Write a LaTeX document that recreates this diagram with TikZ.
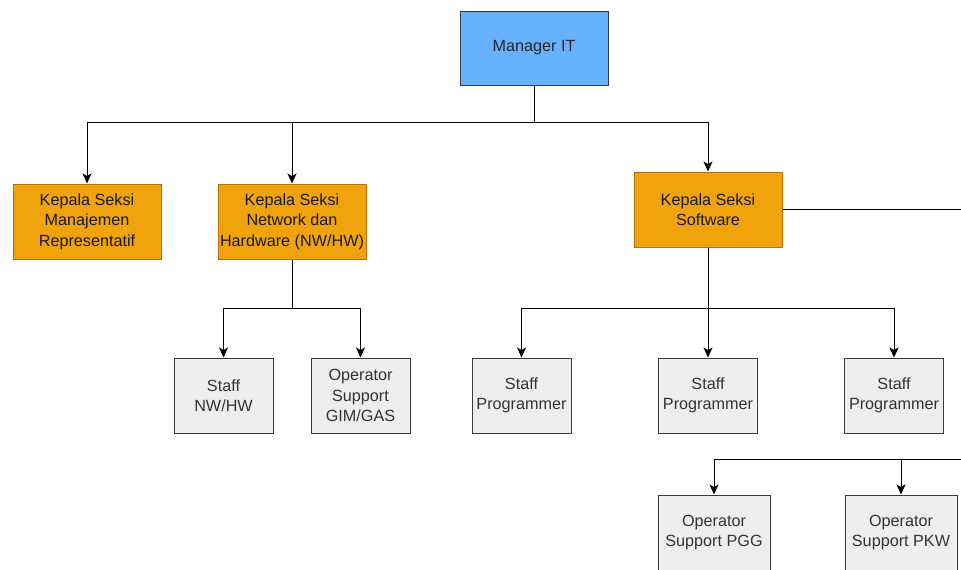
\documentclass[tikz,border=0pt]{standalone}
\usepackage{fontspec}
\setmainfont{Liberation Sans}
\usetikzlibrary{arrows.meta}
\definecolor{bluefill}{HTML}{66B2FF}
\definecolor{orangefill}{HTML}{F0A30A}
\definecolor{orangeline}{HTML}{BD7000}
\definecolor{grayfill}{HTML}{EEEEEE}
\definecolor{grayline}{HTML}{36393D}
\definecolor{graytext}{HTML}{333333}
\tikzset{
  box/.style={draw, line width=1pt, align=center, inner sep=0pt,
    font=\fontsize{16.2}{20.5}\selectfont},
  bluebox/.style={box, fill=bluefill, draw=grayline, text=black!85,
    minimum width=148pt, minimum height=74pt},
  orangebox/.style={box, fill=orangefill, draw=orangeline, text=black!90,
    minimum width=148pt, minimum height=75pt},
  graybox/.style={box, fill=grayfill, draw=grayline, text=graytext,
    minimum width=99pt, minimum height=75pt},
  widegraybox/.style={graybox, minimum width=112pt},
  conn/.style={line width=1pt, black},
  arr/.style={conn, -{Stealth[length=10pt,width=9pt,inset=2.5pt]}}
}
\begin{document}
\begin{tikzpicture}[x=1pt,y=-1pt]
\useasboundingbox (0,0) rectangle (961,570);
% nodes
\node[bluebox] (mgr) at (534,48) {Manager IT};
\node[orangebox] (km) at (87,221.5) {Kepala Seksi\\Manajemen\\Representatif};
\node[orangebox] (kn) at (292,221.5) {Kepala Seksi\\Network dan\\Hardware (NW/HW)};
\node[orangebox] (ks) at (708,209.5) {Kepala Seksi\\Software};
\node[graybox] (snw) at (223.5,395.5) {Staff\\NW/HW};
\node[graybox] (ogim) at (360.5,395.5) {Operator\\Support\\GIM/GAS};
\node[graybox] (sp1) at (521.5,395.5) {Staff\\Programmer};
\node[graybox] (sp2) at (708,395.5) {Staff\\Programmer};
\node[graybox] (sp3) at (894,395.5) {Staff\\Programmer};
\node[widegraybox] (opgg) at (714,532.5) {Operator\\Support PGG};
\node[widegraybox] (opkw) at (901,532.5) {Operator\\Support PKW};
% junctions
\coordinate (b1) at (534,122);
\coordinate (b2) at (292,308);
\coordinate (b3) at (708,308);
\coordinate (off1) at (975,209);
\coordinate (off2) at (975,459);
\coordinate (j4) at (901,459);
% connectors
\draw[conn] (mgr.south) -- (b1);
\draw[arr] (b1) -| (km.north);
\draw[arr] (b1) -| (kn.north);
\draw[arr] (b1) -| (ks.north);
\draw[conn] (kn.south) -- (b2);
\draw[arr] (b2) -| (snw.north);
\draw[arr] (b2) -| (ogim.north);
\draw[conn] (ks.south) -- (b3);
\draw[arr] (b3) -| (sp1.north);
\draw[arr] (b3) -- (sp2.north);
\draw[arr] (b3) -| (sp3.north);
\draw[conn] (ks.east |- off1) -- (off1);
\draw[arr] (off2) -| (opgg.north);
\draw[arr] (j4) -- (opkw.north);
\end{tikzpicture}
\end{document}
